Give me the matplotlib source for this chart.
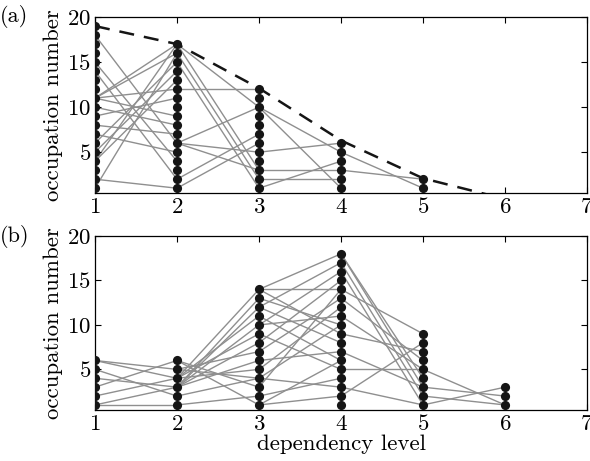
import matplotlib
matplotlib.use('Agg')
import matplotlib.pyplot as plt

plt.rcParams['font.family'] = 'cmr10'
plt.rcParams['mathtext.fontset'] = 'cm'
plt.rcParams['axes.formatter.use_mathtext'] = True
plt.rcParams['font.size'] = 16.5

# occupation of each dependency level (nodes are numbered 1..n on each level)
levels = [1, 2, 3, 4, 5, 6]
occ_a = [19, 17, 12, 6, 2, 0]
occ_b = [6, 6, 14, 18, 9, 3]

# dependencies between consecutive levels: (node on level k, node on level k+1)
edges_a = {
    1: [(18, 6), (15, 4), (14, 2), (11, 17), (11, 16), (11, 12), (11, 9),
        (10, 8), (9, 11), (8, 7), (7, 5), (6, 15), (5, 14), (4, 13),
        (4, 17), (2, 1), (1, 16)],
    2: [(17, 10), (17, 3), (16, 2), (15, 1), (12, 12), (6, 10), (6, 5),
        (6, 3), (2, 7), (1, 6)],
    3: [(10, 5), (10, 1), (5, 6), (3, 3), (2, 2), (1, 4)],
    4: [(5, 1), (3, 2)],
}
edges_b = {
    1: [(6, 5), (6, 4), (5, 2), (4, 3), (3, 6), (2, 4), (1, 1), (1, 3)],
    2: [(6, 3), (6, 1), (5, 7), (5, 4), (4, 14), (4, 11), (4, 9), (4, 5),
        (3, 13), (3, 12), (3, 10), (3, 8), (3, 6), (2, 4), (1, 2)],
    3: [(14, 14), (14, 18), (14, 9), (13, 10), (12, 17), (12, 8), (11, 6),
        (10, 16), (10, 11), (9, 5), (8, 15), (7, 13), (6, 7), (5, 12),
        (4, 10), (4, 3), (3, 14), (2, 4), (1, 2), (1, 6)],
    4: [(18, 4), (18, 3), (17, 2), (16, 1), (14, 9), (13, 6), (11, 5),
        (7, 3), (5, 5), (3, 1), (2, 8), (9, 7)],
    5: [(5, 1), (2, 1), (1, 3), (3, 2)],
}

# upper envelope drawn as a dashed guide in panel (a)
env_x = [1, 2, 3, 4, 5, 6]
env_y = [19, 17, 12.1, 6.3, 2.1, -0.2]

fig = plt.figure(figsize=(5.9, 4.61), dpi=100)
ax_a = fig.add_axes([0.161, 0.581, 0.834, 0.382])
ax_b = fig.add_axes([0.161, 0.111, 0.834, 0.377])


def draw_panel(ax, occ, edges):
    for lvl, pairs in edges.items():
        for n0, n1 in pairs:
            ax.plot([lvl, lvl + 1], [n0, n1], color='#8f8f8f', lw=1.0, zorder=1)
    for lvl, n in zip(levels, occ):
        if n > 0:
            ax.plot([lvl] * n, range(1, n + 1), 'o', color='#151515',
                    ms=6.6, mec='none', zorder=3)
    ax.set_xlim(1, 7)
    ax.set_ylim(0.45, 20)
    ax.set_xticks(range(1, 8))
    ax.set_yticks([5, 10, 15, 20])
    ax.tick_params(direction='in', top=True, right=True, length=4, width=0.8,
                   labelsize=16.5, pad=3)
    ax.set_ylabel('occupation number', fontsize=16.5, labelpad=3)
    for s in ax.spines.values():
        s.set_linewidth(0.9)


draw_panel(ax_a, occ_a, edges_a)
ax_a.plot(env_x, env_y, '--', color='#151515', lw=1.8, dashes=(6, 4), zorder=2)

draw_panel(ax_b, occ_b, edges_b)
ax_b.set_xlabel('dependency level', fontsize=16.5, labelpad=0)

fig.text(0.0, 0.965, '(a)', fontsize=16, va='center', ha='left')
fig.text(0.0, 0.488, '(b)', fontsize=16, va='center', ha='left')

fig.savefig('out.png', dpi=100)
